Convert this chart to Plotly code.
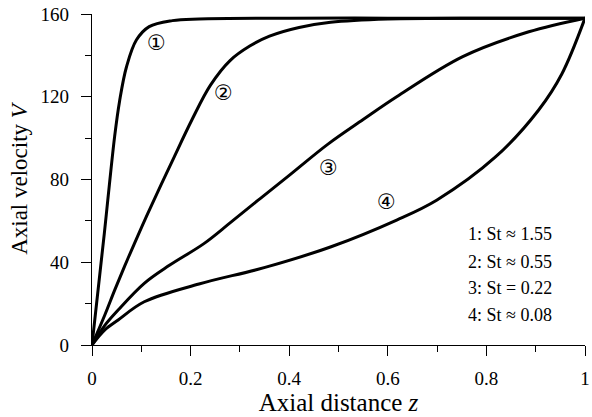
import plotly.graph_objects as go

# ---- data ----
z1 = [0, 0.025, 0.032, 0.046, 0.056, 0.070, 0.090, 0.116, 0.163, 0.217, 0.4, 0.6, 0.8, 1.0]
v1 = [0, 54, 70, 101, 118, 134.5, 147.4, 153.9, 156.8, 157.6, 158, 158, 158, 158]

z2 = [0, 0.026, 0.046, 0.066, 0.086, 0.113, 0.163, 0.203, 0.240, 0.280, 0.320, 0.360, 0.420, 0.484, 0.6, 0.8, 1.0]
v2 = [0, 14.5, 26.5, 38, 49, 63.5, 89, 109, 125.5, 137.5, 144.5, 149.3, 153.5, 156.0, 157.6, 158, 158]

z3 = [0, 0.026, 0.053, 0.106, 0.157, 0.227, 0.280, 0.337, 0.400, 0.478, 0.550, 0.618, 0.752, 0.886, 1.0]
v3 = [0, 9.5, 16.9, 29.8, 38.5, 49, 59, 70, 82, 97, 109, 120, 139.4, 151.4, 158]

z4 = [0, 0.026, 0.053, 0.106, 0.217, 0.351, 0.485, 0.618, 0.699, 0.819, 0.906, 0.953, 1.0]
v4 = [0, 7.3, 12.1, 20.9, 29.5, 37.5, 47.5, 60.4, 70, 91, 113.6, 131, 158]

curve_tags = ["\u2460", "\u2461", "\u2462", "\u2463"]
tag_z = [0.131, 0.266, 0.479, 0.598]
tag_v = [145.8, 121.6, 85.4, 69.0]

legend_labels = ["1: St \u2248 1.55", "2: St \u2248 0.55", "3: St = 0.22", "4: St \u2248 0.08"]
legend_z = 0.759
legend_v = [53.6, 39.9, 27.4, 14.7]

x_ticks = [0, 0.2, 0.4, 0.6, 0.8, 1]
x_ticklabels = ["0", "0.2", "0.4", "0.6", "0.8", "1"]
y_ticks = [0, 40, 80, 120, 160]
y_ticklabels = ["0", "40", "80", "120", "160"]

SERIF = "Liberation Serif, serif"

fig = go.Figure()
for zs, vs in [(z1, v1), (z2, v2), (z3, v3), (z4, v4)]:
    fig.add_trace(go.Scatter(x=zs, y=vs, mode="lines",
                             line=dict(color="black", width=3, shape="spline", smoothing=1.0),
                             showlegend=False, hoverinfo="skip"))

for t, zz, vv in zip(curve_tags, tag_z, tag_v):
    fig.add_annotation(x=zz, y=vv, text=t, showarrow=False, xanchor="center", yanchor="middle",
                       font=dict(family="DejaVu Sans", size=21, color="black"))

for lab, vv in zip(legend_labels, legend_v):
    fig.add_annotation(x=legend_z, y=vv, text=lab, showarrow=False, xanchor="left", yanchor="middle",
                       font=dict(family=SERIF, size=18, color="black"))

axis_common = dict(showline=True, linecolor="black", linewidth=1.3, ticks="outside",
                   ticklen=10, tickwidth=1.3, tickcolor="black", showgrid=False, zeroline=False,
                   mirror=False, ticklabeloverflow="allow",
                   tickfont=dict(family=SERIF, size=19, color="black"))

fig.update_xaxes(range=[0, 1], tickvals=x_ticks, ticktext=x_ticklabels,
                 minor=dict(tickvals=[0.1, 0.3, 0.5, 0.7, 0.9], ticks="outside", ticklen=6,
                            tickwidth=1.3, tickcolor="black", showgrid=False),
                 ticklabelstandoff=6,
                 title=dict(text="Axial distance <i>z</i>", font=dict(family=SERIF, size=25, color="black"),
                            standoff=4),
                 **axis_common)
fig.update_yaxes(range=[0, 160], tickvals=y_ticks, ticktext=y_ticklabels,
                 minor=dict(tickvals=[20, 60, 100, 140], ticks="outside", ticklen=6,
                            tickwidth=1.3, tickcolor="black", showgrid=False),
                 ticklabelstandoff=8,
                 title=dict(text="Axial velocity <i>V</i>", font=dict(family=SERIF, size=23, color="black"),
                            standoff=6),
                 **axis_common)

fig.update_layout(width=592, height=417, margin=dict(l=92, r=2, t=14, b=72),
                  plot_bgcolor="white", paper_bgcolor="white")

fig.write_html("out.html")
